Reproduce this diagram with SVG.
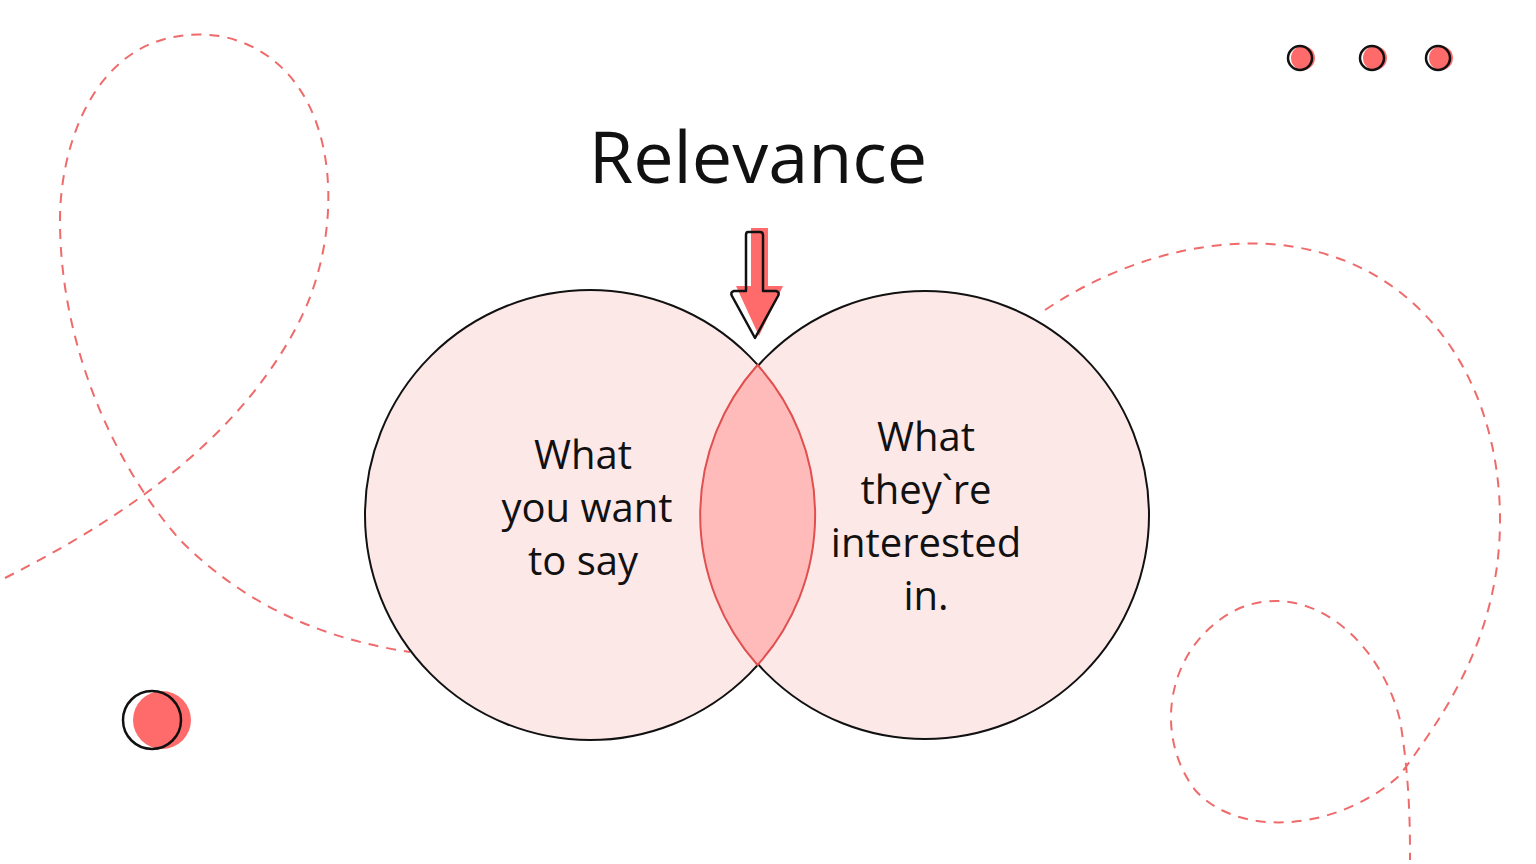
<svg xmlns="http://www.w3.org/2000/svg" width="1536" height="864" viewBox="0 0 1536 864">
<style>
.d{fill:none;stroke:#ef6b6b;stroke-width:2;stroke-dasharray:10 8}
.t{font-family:"Open Sans","Noto Sans",sans-serif;fill:#111;text-anchor:middle}
.o{fill:none;stroke:#111;stroke-width:2.5}
.r{fill:#ff6b6b}
</style>
<rect width="1536" height="864" fill="#fff"/>
<g id="decor">
<path class="d" d="M5,578 C120,520 240,440 300,320 C350,220 340,60 220,36 C100,20 60,140 60,220 C60,340 110,460 180,540 C250,610 330,640 410,652"/>
<path class="d" d="M1045,310 C1120,260 1200,240 1270,244 C1420,255 1500,380 1500,520 C1500,640 1440,720 1400,775 C1340,830 1240,840 1195,790 C1150,730 1170,640 1240,608 C1310,580 1380,640 1400,720 C1410,780 1410,830 1410,860"/>
<circle class="r" cx="162" cy="720" r="29"/><circle class="o" cx="152" cy="720" r="29"/>
<circle class="r" cx="1303" cy="58" r="12"/><circle class="o" cx="1300" cy="58" r="12"/>
<circle class="r" cx="1375" cy="58" r="12"/><circle class="o" cx="1372" cy="58" r="12"/>
<circle class="r" cx="1441" cy="58" r="12"/><circle class="o" cx="1438" cy="58" r="12"/>
</g>
<g id="left-circle"><circle cx="590" cy="515" r="225" fill="#fde8e8" stroke="#111" stroke-width="2"/></g>
<g id="right-circle"><circle cx="925" cy="515" r="224" fill="#fde8e8" stroke="#111" stroke-width="2"/></g>
<g id="overlap"><path d="M757.5,365 A225,225 0 0 0 757.5,665 A224,224 0 0 0 757.5,365 Z" fill="#ffbaba" stroke="#e0504f" stroke-width="2"/></g>
<g id="arrow">
<path class="r" d="M751,228 H768 V286 H783 L759,336 L736,286 H751 Z"/>
<path d="M748,232 Q746,232 746,235 V291 H734 Q730,292 732,296 L755,338 L778,296 Q780,292 776,291 H763 V235 Q763,232 760,232 Z" fill="none" stroke="#111" stroke-width="2.5" stroke-linejoin="round"/>
</g>
<g id="title"><text class="t" x="758" y="183" font-size="72">Relevance</text></g>
<g id="left-text" class="t" font-size="40">
<text x="583" y="469">What</text><text x="587" y="522">you want</text><text x="583" y="575">to say</text>
</g>
<g id="right-text" class="t" font-size="40">
<text x="926" y="451">What</text><text x="926" y="504">they`re</text><text x="926" y="557">interested</text><text x="926" y="610">in.</text>
</g>
</svg>
